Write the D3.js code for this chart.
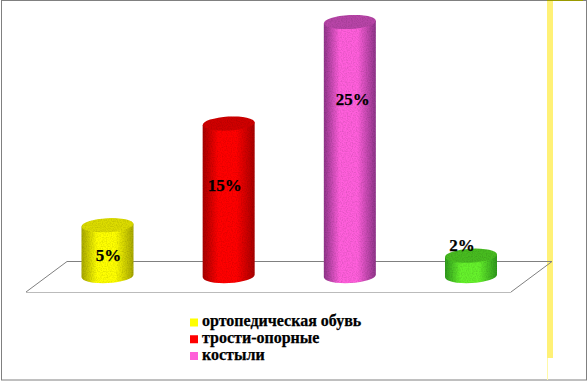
<!DOCTYPE html>
<html>
<head>
<meta charset="utf-8">
<script src="https://cdn.jsdelivr.net/npm/d3@7"></script>
<style>
  html, body { margin: 0; padding: 0; background: #fff; }
  svg { display: block; }
  text { font-family: "Liberation Serif", serif; font-weight: bold; fill: #000; }
  .value-label { font-size: 17px; text-anchor: middle; dominant-baseline: middle; stroke: #000; stroke-width: 0.25px; }
  .legend-label { font-size: 16px; dominant-baseline: middle; stroke: #000; stroke-width: 0.25px; }
</style>
</head>
<body>
<div id="wrapper"></div>
<script>
const categories = ["ортопедическая обувь", "трости-опорные", "костыли", "прочее"]
const values = [5, 15, 25, 2]
const valueLabels = ["5%", "15%", "25%", "2%"]
const legendCategories = ["ортопедическая обувь", "трости-опорные", "костыли"]

function drawChart() {
  const dimensions = { width: 588, height: 381 }

  const svg = d3.select("#wrapper")
    .append("svg")
      .attr("width", dimensions.width)
      .attr("height", dimensions.height)

  const defs = svg.append("defs")

  // scales
  const xScale = d3.scalePoint()
    .domain(categories)
    .range([107.5, 471])

  const yScale = d3.scaleLinear()
    .domain([0, 25])
    .range([276, 22])

  const colors = d3.scaleOrdinal()
    .domain(categories)
    .range([
      { side: "#ffff00", edge: "#a8a800", top: "#dcdc00", legend: "#ffff00" },
      { side: "#ff0000", edge: "#a80000", top: "#d00000", legend: "#ff0000" },
      { side: "#ff5fdc", edge: "#90348a", top: "#b845a8", legend: "#ff5fd8" },
      { side: "#66f22c", edge: "#2f9a1c", top: "#48bc20", legend: "#66f22c" },
    ])

  categories.forEach((c, i) => {
    const grad = defs.append("linearGradient").attr("id", `side-${i}`)
    grad.append("stop").attr("offset", "0%").attr("stop-color", colors(c).edge)
    grad.append("stop").attr("offset", "30%").attr("stop-color", colors(c).side)
    grad.append("stop").attr("offset", "65%").attr("stop-color", colors(c).side)
    grad.append("stop").attr("offset", "100%").attr("stop-color", colors(c).edge)
  })

  // dithered grain on the cylinders
  const grain = defs.append("filter")
      .attr("id", "grain")
      .attr("color-interpolation-filters", "sRGB")
  grain.append("feTurbulence")
      .attr("type", "fractalNoise")
      .attr("baseFrequency", 0.8)
      .attr("numOctaves", 1)
      .attr("seed", 3)
      .attr("result", "noise")
  grain.append("feColorMatrix")
      .attr("in", "noise")
      .attr("type", "matrix")
      .attr("values", "0 0 0 0 0  0 0 0 0 0  0 0 0 0 0  0.3 0 0 0 -0.12")
      .attr("result", "dots")
  grain.append("feComposite")
      .attr("in", "dots")
      .attr("in2", "SourceGraphic")
      .attr("operator", "in")
      .attr("result", "clipped")
  const merge = grain.append("feMerge")
  merge.append("feMergeNode").attr("in", "SourceGraphic")
  merge.append("feMergeNode").attr("in", "clipped")

  // frame
  svg.append("rect")
      .attr("x", 1.5)
      .attr("y", 0.5)
      .attr("width", 585)
      .attr("height", 379.5)
      .attr("fill", "#fff")
      .attr("stroke", "#808080")

  // yellow stripe on the right
  svg.append("rect")
      .attr("x", 547)
      .attr("y", 0)
      .attr("width", 6)
      .attr("height", 358)
      .attr("fill", "#fff176")
  svg.append("line")
      .attr("x1", 547.5).attr("x2", 547.5)
      .attr("y1", 358).attr("y2", 380)
      .attr("stroke", "#fff9a8")
  svg.append("line")
      .attr("x1", 547).attr("x2", 583)
      .attr("y1", 0.5).attr("y2", 0.5)
      .attr("stroke", "#9a9a00")

  // floor
  const floor = svg.append("g").attr("fill", "none").attr("stroke", "#808080")
  floor.append("path").attr("d", "M26,292L67,261.5H552L511,292")
  floor.append("line")
      .attr("x1", 26).attr("x2", 511)
      .attr("y1", 292.5).attr("y2", 292.5)
      .attr("stroke", "#bbbbbb")

  // cylinders
  const rx = 26
  const ry = 7
  const tilt = -3
  const dy = rx * Math.sin(tilt * Math.PI / 180)

  const bars = svg.selectAll(".bar")
      .data(categories)
    .enter().append("g")
      .attr("class", "bar")
      .attr("filter", "url(#grain)")

  bars.append("path")
      .attr("fill", (d, i) => `url(#side-${i})`)
      .attr("d", (d, i) => {
        const cx = xScale(d)
        const top = yScale(values[i])
        const base = yScale(0)
        return `M${cx - rx},${top - dy}`
          + `L${cx - rx},${base - dy}`
          + `A${rx},${ry} ${tilt} 0 0 ${cx + rx},${base + dy}`
          + `L${cx + rx},${top + dy}Z`
      })

  bars.append("ellipse")
      .attr("cx", d => xScale(d))
      .attr("cy", (d, i) => yScale(values[i]))
      .attr("rx", rx)
      .attr("ry", ry)
      .attr("transform", (d, i) => `rotate(${tilt} ${xScale(d)} ${yScale(values[i])})`)
      .attr("fill", d => colors(d).top)

  // labels sit at hand-picked distances from the top of each cylinder
  const labelDx = [1, -4, 3, -9]
  const labelDy = [32, 63, 79, -9]
  svg.selectAll(".value-label")
      .data(categories)
    .enter().append("text")
      .attr("class", "value-label")
      .attr("x", (d, i) => xScale(d) + labelDx[i])
      .attr("y", (d, i) => yScale(values[i]) + labelDy[i])
      .text((d, i) => valueLabels[i])

  // legend
  const legendY = d3.scalePoint()
    .domain(legendCategories)
    .range([322.5, 356])

  const legend = svg.selectAll(".legend")
      .data(legendCategories)
    .enter().append("g")
      .attr("class", "legend")

  legend.append("rect")
      .attr("x", 190)
      .attr("y", d => legendY(d) - 4)
      .attr("width", 8)
      .attr("height", 8)
      .attr("fill", d => colors(d).legend)

  legend.append("text")
      .attr("class", "legend-label")
      .attr("x", 202)
      .attr("y", d => legendY(d))
      .text(d => d)
}
drawChart()
</script>
</body>
</html>
